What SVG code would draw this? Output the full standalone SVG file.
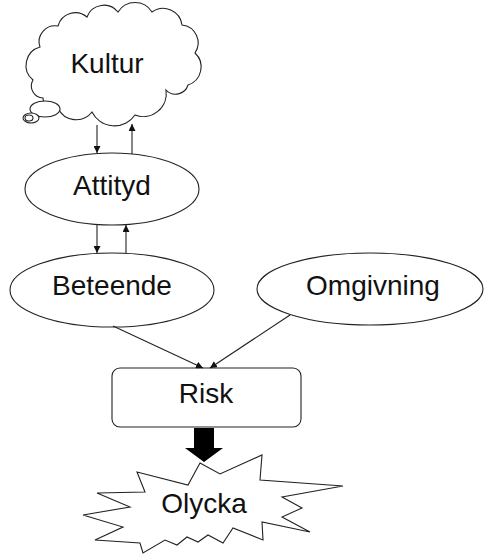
<svg xmlns="http://www.w3.org/2000/svg" width="486" height="555" viewBox="0 0 486 555">
  <style>
    .shape { fill: #fff; stroke: #222; stroke-width: 1.1; }
    .label { font-family: "Liberation Sans", Arial, sans-serif; font-size: 28px; fill: #111; text-anchor: middle; }
    .link { stroke: #222; stroke-width: 1.1; fill: none; }
  </style>
  <defs>
    <marker id="head" viewBox="0 0 10 10" refX="10" refY="5" markerWidth="7" markerHeight="7" markerUnits="userSpaceOnUse" orient="auto">
      <path d="M0,0 L10,5 L0,10 z" fill="#111"/>
    </marker>
  </defs>
  <rect width="486" height="555" fill="#fff"/>

  <g id="kultur">
    <path class="shape" d="M40,47 A16,16 0 0 1 58,26 A18,18 0 0 1 87,17 A18,18 0 0 1 118,12 A20,20 0 0 1 152,12 A19,19 0 0 1 182,25 A18,18 0 0 1 195,53 A19,19 0 0 1 188,85 A13,13 0 0 1 166,90 A23,23 0 0 1 135,115 A25,25 0 0 1 92,112 A20,20 0 0 1 58,108 A11,11 0 0 1 43,98 A12,12 0 0 1 33,80 A19,19 0 0 1 40,47 Z"/>
    <ellipse class="shape" cx="45" cy="109" rx="15" ry="8"/>
    <ellipse class="shape" cx="31" cy="118" rx="8" ry="5"/>
    <ellipse class="shape" cx="29" cy="118" rx="4" ry="3"/>
    <text class="label" x="107" y="73">Kultur</text>
  </g>

  <g id="attityd">
    <ellipse class="shape" cx="112" cy="189" rx="87" ry="36"/>
    <text class="label" x="112" y="195">Attityd</text>
  </g>

  <g id="beteende">
    <ellipse class="shape" cx="112" cy="290" rx="102" ry="37"/>
    <text class="label" x="112" y="295">Beteende</text>
  </g>

  <g id="omgivning">
    <ellipse class="shape" cx="370" cy="289" rx="113" ry="36"/>
    <text class="label" x="373" y="295">Omgivning</text>
  </g>

  <g id="risk">
    <rect class="shape" x="112" y="368" width="189" height="59" rx="8" ry="8"/>
    <text class="label" x="206" y="403">Risk</text>
  </g>

  <g id="olycka">
    <polygon class="shape" points="200,463 220,474 262,455 260,480 343,486 282,497 302,508 282,517 310,532 262,522 263,540 233,528 223,543 208,535 198,542 187,537 177,545 165,540 143,553 140,543 95,540 123,527 83,515 130,507 97,493 145,492 137,472 188,485"/>
    <text class="label" x="204" y="513">Olycka</text>
  </g>

  <g id="connectors">
    <line class="link" x1="97" y1="125" x2="97" y2="153" marker-end="url(#head)"/>
    <line class="link" x1="132" y1="154" x2="132" y2="124" marker-end="url(#head)"/>
    <line class="link" x1="97" y1="225" x2="97" y2="253" marker-end="url(#head)"/>
    <line class="link" x1="126" y1="253" x2="126" y2="225" marker-end="url(#head)"/>
    <line class="link" x1="113" y1="326" x2="203" y2="368" marker-end="url(#head)"/>
    <line class="link" x1="290" y1="315" x2="210" y2="368" marker-end="url(#head)"/>
    <polygon points="194,428 214,428 214,448 223,448 204,462 185,448 194,448" fill="#000"/>
  </g>
</svg>
